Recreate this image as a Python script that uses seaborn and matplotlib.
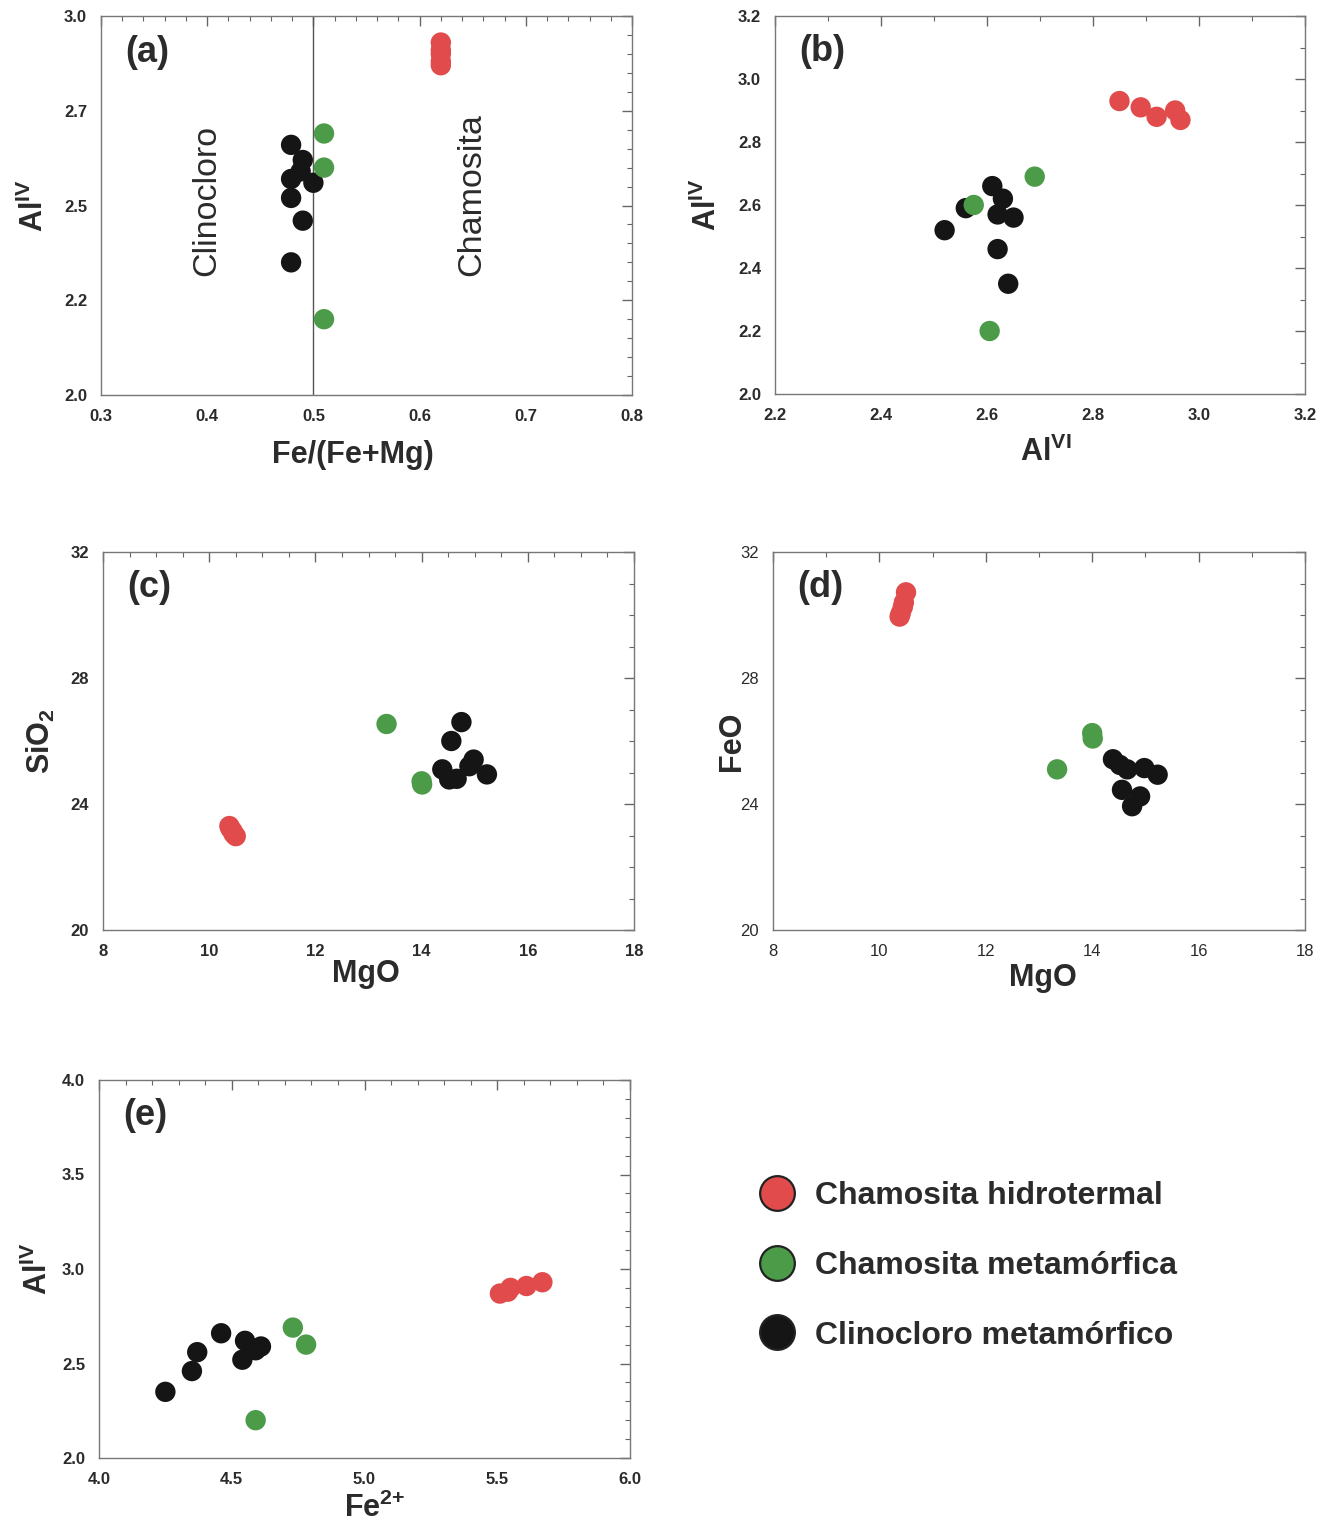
import matplotlib
matplotlib.use("Agg")
import matplotlib.pyplot as plt
from matplotlib.ticker import MultipleLocator, FixedLocator, FixedFormatter
from matplotlib.lines import Line2D
import pandas as pd
import seaborn as sns

# --- Clinocloro metamórfico ---
clin_al_iv = [2.66, 2.62, 2.59, 2.57, 2.56, 2.52, 2.46, 2.35]
clin_fe_femg = [0.479, 0.490, 0.488, 0.479, 0.500, 0.479, 0.490, 0.479]
clin_al_vi = [2.61, 2.63, 2.56, 2.62, 2.65, 2.52, 2.62, 2.64]
clin_fe2 = [4.46, 4.55, 4.61, 4.59, 4.37, 4.54, 4.35, 4.25]
clin_mgo = [14.39, 14.52, 14.66, 14.98, 15.23, 14.56, 14.90, 14.75]
clin_sio2 = [25.10, 24.78, 24.80, 25.41, 24.94, 26.00, 25.20, 26.60]
clin_feo = [25.42, 25.24, 25.10, 25.14, 24.93, 24.45, 24.24, 23.93]

# --- Chamosita metamórfica ---
met_al_iv = [2.69, 2.60, 2.20]
met_fe_femg = [0.51, 0.51, 0.51]
met_al_vi = [2.69, 2.575, 2.605]
met_fe2 = [4.73, 4.78, 4.59]
met_mgo = [13.34, 14.00, 14.01]
met_sio2 = [26.54, 24.72, 24.62]
met_feo = [25.10, 26.25, 26.08]

# --- Chamosita hidrotermal ---
hid_al_iv = [2.93, 2.91, 2.88, 2.90, 2.87]
hid_fe_femg = [0.62, 0.62, 0.62, 0.62, 0.62]
hid_al_vi = [2.85, 2.89, 2.92, 2.955, 2.965]
hid_fe2 = [5.67, 5.61, 5.54, 5.55, 5.51]
hid_mgo = [10.50, 10.46, 10.44, 10.40, 10.38]
hid_sio2 = [22.98, 23.05, 23.14, 23.22, 23.30]
hid_feo = [30.72, 30.40, 30.25, 30.05, 29.95]

grupos = ["Chamosita hidrotermal", "Chamosita metamórfica", "Clinocloro metamórfico"]
colores = ["#e14b4b", "#4b9b49", "#151515"]
paleta = dict(zip(grupos, colores))


def tabla(nombre, **cols):
    df = pd.DataFrame(cols)
    df["grupo"] = nombre
    return df


datos = pd.concat([
    tabla(grupos[2], al_iv=clin_al_iv, fe_femg=clin_fe_femg, al_vi=clin_al_vi,
          fe2=clin_fe2, mgo=clin_mgo, sio2=clin_sio2, feo=clin_feo),
    tabla(grupos[1], al_iv=met_al_iv, fe_femg=met_fe_femg, al_vi=met_al_vi,
          fe2=met_fe2, mgo=met_mgo, sio2=met_sio2, feo=met_feo),
    tabla(grupos[0], al_iv=hid_al_iv, fe_femg=hid_fe_femg, al_vi=hid_al_vi,
          fe2=hid_fe2, mgo=hid_mgo, sio2=hid_sio2, feo=hid_feo),
], ignore_index=True)

sns.set_style("white")
plt.rcParams["font.family"] = ["Liberation Sans", "DejaVu Sans"]
plt.rcParams["mathtext.fontset"] = "custom"
plt.rcParams["mathtext.rm"] = "Liberation Sans"
plt.rcParams["mathtext.bf"] = "Liberation Sans:bold"
plt.rcParams["mathtext.it"] = "Liberation Sans:italic"

W, H = 1333, 1524
fig = plt.figure(figsize=(W / 100, H / 100), dpi=100)
fig.patch.set_facecolor("white")

TXT = "#2b2b2b"


def caja(left, top, right, bottom):
    return fig.add_axes([left / W, 1 - bottom / H, (right - left) / W, (bottom - top) / H])


def panel(ax, x, y, xlim, ylim, xmaj, xmin, ymaj, ymin, letra, xlabel, ylabel,
          xpad, ypad, xlab_x=0.5, bold_ticks=True):
    sns.scatterplot(data=datos, x=x, y=y, hue="grupo", palette=paleta, s=215,
                    linewidth=0, legend=False, ax=ax, zorder=3)
    ax.set_xlim(*xlim)
    ax.set_ylim(*ylim)
    ax.xaxis.set_major_locator(MultipleLocator(xmaj))
    ax.xaxis.set_minor_locator(MultipleLocator(xmin))
    ax.yaxis.set_major_locator(MultipleLocator(ymaj))
    ax.yaxis.set_minor_locator(MultipleLocator(ymin))
    ax.tick_params(which="both", direction="in", top=True, right=True,
                   colors="#666666", labelcolor=TXT, labelsize=12, pad=10)
    ax.tick_params(which="major", length=7, width=1)
    ax.tick_params(which="minor", length=3.5, width=0.8)
    for lab in ax.get_xticklabels() + ax.get_yticklabels():
        lab.set_fontweight("bold" if bold_ticks else "normal")
    for sp in ax.spines.values():
        sp.set_color("#777777")
        sp.set_linewidth(1.0)
    ax.set_xlabel(xlabel, fontsize=22, fontweight="bold", color=TXT, labelpad=xpad)
    ax.set_ylabel(ylabel, fontsize=22, fontweight="bold", color=TXT, labelpad=ypad)
    ax.xaxis.label.set_x(xlab_x)
    ax.text(0.045, 0.905, letra, transform=ax.transAxes, fontsize=26,
            fontweight="bold", color=TXT, ha="left", va="center")


AL_IV = r"$\mathbf{Al^{IV}}$"

# (a) Al IV vs Fe/(Fe+Mg)
ax_a = caja(101, 16, 632, 395)
panel(ax_a, "fe_femg", "al_iv", (0.3, 0.8), (2.0, 3.0), 0.1, 0.02, 0.25, 0.05,
      "(a)", "Fe/(Fe+Mg)", AL_IV, 11.5, 10, xlab_x=0.475)
ax_a.yaxis.set_major_locator(FixedLocator([2.0, 2.25, 2.5, 2.75, 3.0]))
ax_a.yaxis.set_major_formatter(FixedFormatter(["2.0", "2.2", "2.5", "2.7", "3.0"]))
for lab in ax_a.get_yticklabels():
    lab.set_fontweight("bold")
ax_a.axvline(0.5, color="#555555", lw=1.0, zorder=1)
ax_a.text(0.40, 2.315, "Clinocloro", rotation=90, fontsize=24.5, color=TXT,
          ha="center", va="bottom")
ax_a.text(0.649, 2.315, "Chamosita", rotation=90, fontsize=24.5, color=TXT,
          ha="center", va="bottom")

# (b) Al IV vs Al VI
ax_b = caja(775, 16, 1305, 394)
panel(ax_b, "al_vi", "al_iv", (2.2, 3.2), (2.0, 3.2), 0.2, 0.1, 0.2, 0.1,
      "(b)", r"$\mathbf{Al^{VI}}$", AL_IV, 10, 11, xlab_x=0.51)

# (c) SiO2 vs MgO
ax_c = caja(103, 552, 634, 930)
panel(ax_c, "mgo", "sio2", (8, 18), (20, 32), 2, 0.5, 4, 1,
      "(c)", "MgO", r"$\mathbf{SiO_2}$", 0, 10, xlab_x=0.495)

# (d) FeO vs MgO
ax_d = caja(773, 552, 1305, 930)
panel(ax_d, "mgo", "feo", (8, 18), (20, 32), 2, 1, 4, 1,
      "(d)", "MgO", "FeO", 3, -5, xlab_x=0.507, bold_ticks=False)

# (e) Al IV vs Fe2+
ax_e = caja(99, 1080, 630, 1458)
panel(ax_e, "fe2", "al_iv", (4.0, 6.0), (2.0, 4.0), 0.5, 0.1, 0.5, 0.1,
      "(e)", r"$\mathbf{Fe^{2{+}}}$", AL_IV, 4, 6, xlab_x=0.52)
ax_e.xaxis.set_major_locator(FixedLocator([4.0, 4.5, 5.0, 5.5, 6.0]))
ax_e.xaxis.set_major_formatter(FixedFormatter(["4.0", "4.5", "5.0", "5.5", "6.0"]))
for lab in ax_e.get_xticklabels():
    lab.set_fontweight("bold")

# Leyenda común
manejadores = [
    Line2D([], [], marker="o", ls="", markersize=25, markerfacecolor=c,
           markeredgecolor="#222222", markeredgewidth=1.6)
    for c in colores
]
fig.legend(manejadores, grupos, loc="upper left",
           bbox_to_anchor=(745 / W, 1 - 1168 / H), frameon=False,
           prop={"size": 23, "weight": "bold"}, labelcolor=TXT,
           handlelength=1.2, labelspacing=1.25, handletextpad=0.6,
           borderaxespad=0)

fig.savefig("out.png", dpi=100, facecolor="white")
